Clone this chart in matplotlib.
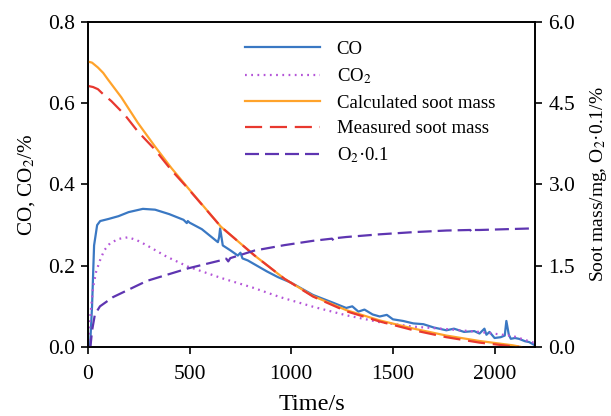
import numpy as np
import matplotlib.pyplot as plt

plt.rcParams['font.family'] = ['Liberation Serif', 'DejaVu Serif']
plt.rcParams['mathtext.fontset'] = 'stix'

# CO (left axis, %)
t_co = [0, 10, 20, 30, 45, 60, 100, 150, 200, 270, 330, 400, 470, 486, 491, 500, 560, 639, 645, 650,
        663, 700, 737, 750, 760, 786, 880, 934, 1000, 1107, 1200, 1270, 1300, 1330, 1360, 1400, 1435,
        1470, 1500, 1550, 1600, 1650, 1700, 1763, 1800, 1850, 1900, 1926, 1950, 1960, 1975, 2000, 2030,
        2050, 2058, 2070, 2080, 2100, 2120, 2150, 2170, 2195]
co = [0.0, 0.0, 0.10, 0.25, 0.30, 0.31, 0.315, 0.322, 0.332, 0.340, 0.338, 0.327, 0.313, 0.305, 0.310,
      0.306, 0.290, 0.258, 0.270, 0.292, 0.250, 0.238, 0.225, 0.232, 0.218, 0.213, 0.186, 0.172, 0.158,
      0.128, 0.110, 0.096, 0.100, 0.087, 0.092, 0.080, 0.075, 0.079, 0.068, 0.064, 0.058, 0.056, 0.048,
      0.041, 0.045, 0.037, 0.039, 0.033, 0.045, 0.030, 0.037, 0.022, 0.024, 0.028, 0.064, 0.030, 0.020,
      0.022, 0.020, 0.014, 0.012, 0.005]

# CO2 (left axis, %)
t_co2 = [0, 10, 25, 40, 59, 80, 108, 150, 197, 240, 290, 388, 491, 654, 811, 943, 1107, 1270, 1435,
         1600, 1763, 1926, 2090, 2195]
co2 = [0.0, 0.07, 0.146, 0.185, 0.213, 0.238, 0.255, 0.266, 0.270, 0.263, 0.250, 0.222, 0.198, 0.170,
       0.146, 0.123, 0.099, 0.078, 0.061, 0.050, 0.044, 0.037, 0.027, 0.010]

# soot mass (right axis, mg)
t_calc = [0, 20, 49, 75, 98, 130, 164, 245, 328, 409, 491, 654, 819, 966, 1107, 1270, 1435, 1600, 1763,
          1926, 2090, 2130]
calc = [5.27, 5.25, 5.16, 5.06, 4.94, 4.78, 4.61, 4.14, 3.71, 3.31, 2.94, 2.22, 1.69, 1.26, 0.94, 0.68,
        0.49, 0.34, 0.21, 0.11, 0.03, 0.0]
t_meas = [0, 25, 49, 74, 115, 180, 245, 328, 409, 491, 654, 819, 966, 1107, 1270, 1435, 1600, 1763, 1926,
          2090, 2120]
meas = [4.82, 4.80, 4.76, 4.67, 4.54, 4.29, 3.98, 3.65, 3.27, 2.93, 2.22, 1.69, 1.26, 0.93, 0.66, 0.47,
        0.31, 0.18, 0.08, 0.01, 0.0]

# O2*0.1 (right axis, %)
t_o2 = [0, 12, 20, 34, 59, 123, 290, 491, 654, 680, 690, 700, 819, 966, 1107, 1200, 1210, 1220, 1270,
        1435, 1600, 1763, 1880, 1890, 1900, 1926, 2195]
o2 = [0.0, 0.0, 0.30, 0.60, 0.75, 0.92, 1.22, 1.45, 1.60, 1.63, 1.58, 1.64, 1.78, 1.88, 1.96, 2.00,
      1.96, 2.01, 2.03, 2.08, 2.12, 2.15, 2.16, 2.11, 2.16, 2.16, 2.19]

fig, ax = plt.subplots(figsize=(6.11, 4.16), dpi=100)
fig.subplots_adjust(left=0.144, right=0.876, top=0.947, bottom=0.166)
ax2 = ax.twinx()

l1, = ax.plot(t_co, co, color='#3a78c3', lw=1.6, label='CO')
l2, = ax.plot(t_co2, co2, color='#b455d8', lw=1.6, linestyle=(0, (0.8, 2.0)), label='CO$_2$')
l3, = ax2.plot(t_calc, calc, color='#ffa32b', lw=1.6, label='Calculated soot mass')
l4, = ax2.plot(t_meas, meas, color='#e8382f', lw=1.6, dashes=[7.7, 3.5], label='Measured soot mass')
l5, = ax2.plot(t_o2, o2, color='#5e35b1', lw=1.6, dashes=[6.3, 2.7], label='O$_2$·0.1')

ax.set_xlim(0, 2200)
ax.set_ylim(0, 0.8)
ax2.set_ylim(0, 6.0)
ax.set_xticks([0, 500, 1000, 1500, 2000])
ax.set_yticks([0.0, 0.2, 0.4, 0.6, 0.8])
ax.set_yticklabels(['0.0', '0.2', '0.4', '0.6', '0.8'])
ax2.set_yticks([0.0, 1.5, 3.0, 4.5, 6.0])
ax2.set_yticklabels(['0.0', '1.5', '3.0', '4.5', '6.0'])
for a in (ax, ax2):
    a.tick_params(direction='out', length=5, width=1.2, labelsize=15.5, pad=4.5)
    for s in a.spines.values():
        s.set_linewidth(1.2)
ax.tick_params(axis='x', pad=8)

ax.set_xlabel('Time/s', fontsize=17.5, labelpad=7)
ax.set_ylabel('CO, CO$_2$/%', fontsize=15.2, labelpad=8)
ax2.set_ylabel('Soot mass/mg, O$_2$·0.1/%', fontsize=14, labelpad=9)

ax.legend(handles=[l1, l2, l3, l4, l5], loc='upper left', bbox_to_anchor=(0.334, 0.965),
          frameon=False, fontsize=13.5, handlelength=4.0, handletextpad=0.9, labelspacing=0.45,
          borderpad=0.4, borderaxespad=0)

plt.savefig('out.png', dpi=100)
